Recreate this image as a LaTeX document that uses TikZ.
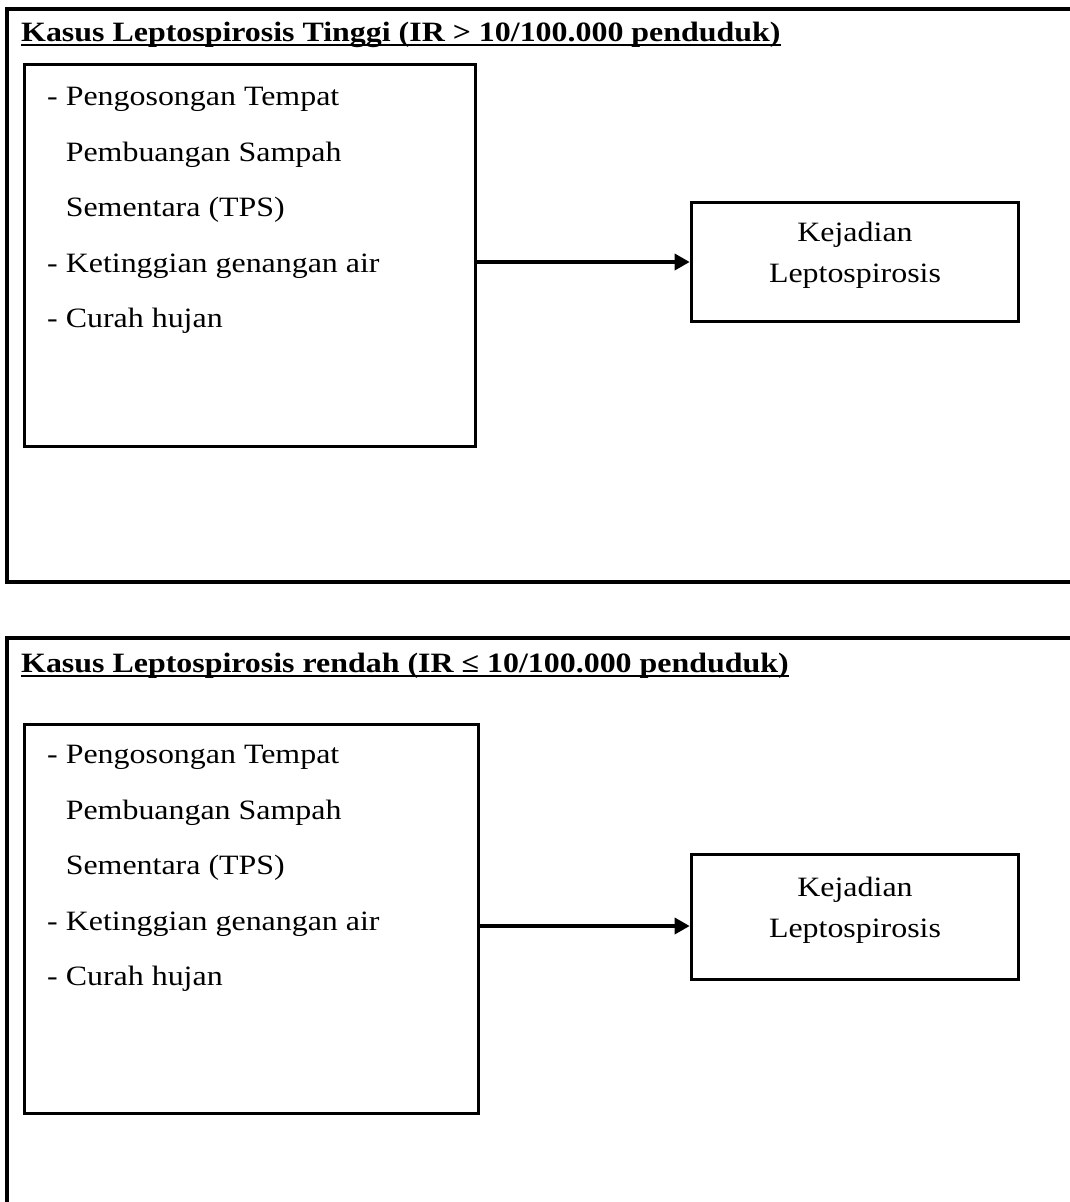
\documentclass[tikz,border=0pt]{standalone}
\usepackage{fontspec}
\setmainfont{Liberation Serif}[FakeStretch=1.14]
\usepackage{tikz}
\usetikzlibrary{arrows.meta}
\tikzset{ outer_frame/.style = {draw, line width=3.8pt} }
\tikzset{ fact_box/.style = {rectangle, draw, line width=3.6pt, inner sep=0pt} }
\tikzset{ fact_list/.style = {inner sep=0pt, align=left, anchor=north west, font=\fontsize{28}{55.5}\selectfont} }
\tikzset{ out_box/.style = {rectangle, draw, line width=3.6pt, align=center, minimum width=327pt, text depth=20pt, font=\fontsize{28}{41}\selectfont} }
\tikzset{ head_text/.style = {inner sep=0pt, anchor=base west, font=\fontsize{28}{34}\selectfont\bfseries} }
\tikzset{ u_line/.style = {line width=2.6pt} }
\tikzset{ link/.style = {line width=3.4pt, -{Triangle[length=15pt,width=16pt]}} }

\begin{document}
\begin{tikzpicture}[x=1pt,y=-1pt]
            \useasboundingbox (0,0) rectangle (1070,1202);
            \fill[white] (0,0) rectangle (1070,1202);
            % tinggi
            \draw[style=outer_frame] (7,9) rectangle (1090,582);
            \node [style=head_text] (T1) at (21,41) {Kasus Leptospirosis Tinggi (IR > 10/100.000 penduduk)};
            \draw[style=u_line] ([yshift=-4pt]T1.base west) -- ([yshift=-4pt]T1.base east);
            \node [style=fact_box, minimum width=451pt, minimum height=382pt] (F1) at (250,255.5) {};
            \node [style=fact_list] (L1) at (47,87) {- Pengosongan Tempat\\ \hphantom{-}\ Pembuangan Sampah\\ \hphantom{-}\ Sementara (TPS)\\ - Ketinggian genangan air\\ - Curah hujan};
            \node [style=out_box, minimum height=119pt] (K1) at (855,262) {Kejadian\\Leptospirosis};
            \draw[style=link] (F1.east |- K1.west) -- (K1.west);
            % rendah
            \draw[style=outer_frame] (7,638) rectangle (1090,1220);
            \node [style=head_text] (T2) at (21,672) {Kasus Leptospirosis rendah (IR ≤ 10/100.000 penduduk)};
            \draw[style=u_line] ([yshift=-4pt]T2.base west) -- ([yshift=-4pt]T2.base east);
            \node [style=fact_box, minimum width=454pt, minimum height=389pt] (F2) at (251.5,919) {};
            \node [style=fact_list] (L2) at (47,745) {- Pengosongan Tempat\\ \hphantom{-}\ Pembuangan Sampah\\ \hphantom{-}\ Sementara (TPS)\\ - Ketinggian genangan air\\ - Curah hujan};
            \node [style=out_box, minimum height=125pt] (K2) at (855,917) {Kejadian\\Leptospirosis};
            \draw[style=link] (F2.east |- K2.west) ++(0,9) -- ([yshift=-9pt]K2.west);
\end{tikzpicture}
\end{document}
